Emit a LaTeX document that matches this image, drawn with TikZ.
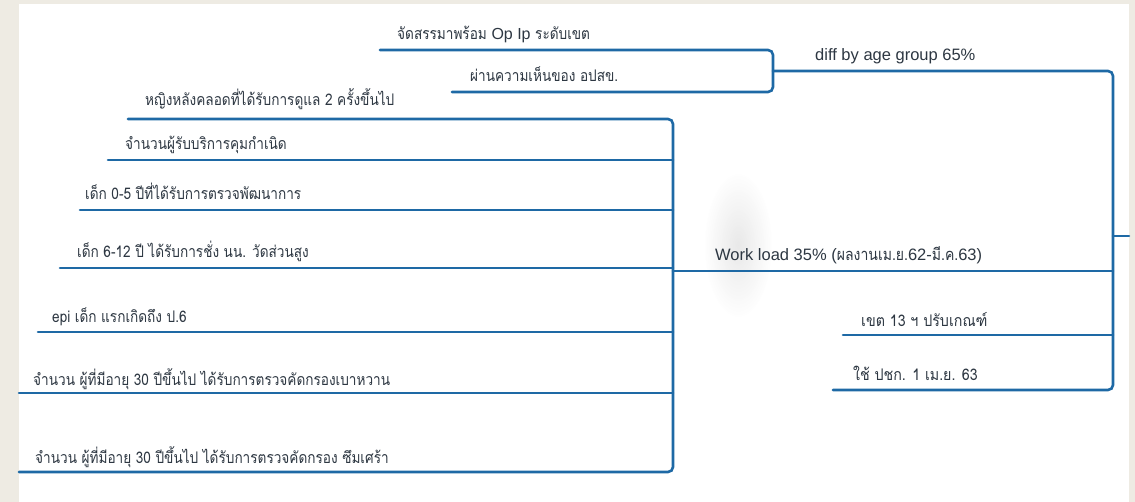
\documentclass[tikz,border=0pt]{standalone}
\usepackage{fontspec}
\usetikzlibrary{fadings}
\setmainfont{Liberation Sans}
\newfontfamily\thai[Script=Thai,FakeStretch=0.85]{Loma}
\newfontfamily\thaiwide[Script=Thai,FakeStretch=0.89]{Loma}
\definecolor{page}{RGB}{238,235,227}
\definecolor{branchblue}{RGB}{30,105,165}
\definecolor{ink}{RGB}{45,55,66}
\tikzfading[name=softspot, inner color=transparent!0, outer color=transparent!100]
\tikzset{
  branch/.style={draw=branchblue, line width=2.6pt, rounded corners=5pt, line cap=round},
  leaf/.style={anchor=base west, inner sep=0pt, text=ink, font=\thai\fontsize{16}{18}\selectfont},
  topic/.style={anchor=base west, inner sep=0pt, text=ink, font=\fontsize{16.5}{19}\selectfont},
  thtopic/.style={anchor=base west, inner sep=0pt, text=ink, font=\thai\fontsize{16}{19}\selectfont},
}
\begin{document}
\begin{tikzpicture}[x=1pt,y=-1pt]
  % canvas and white sheet
  \fill[page] (0,0) rectangle (1135,502);
  \fill[white] (19,4) rectangle (1129,502);
  \useasboundingbox (0,0) rectangle (1135,502);
  % soft grey smear behind the workload label
  \fill[black!55, opacity=0.16, path fading=softspot] (738,245) ellipse (34 and 72);

  % ---- labels ----
  \node[topic] (age)  at (815,61)  {diff by age group 65\%};
  \node[topic] (work) at (715,261) {Work load 35\% ({\thai ผลงานเม.ย.}62-{\thai มี.ค.}63)};
  \node[thtopic, font=\thaiwide\fontsize{16}{19}\selectfont] (zone) at (861,327) {เขต 13 ฯ ปรับเกณฑ์};
  \node[thtopic, font=\thaiwide\fontsize{16}{19}\selectfont] (pop)  at (853,381) {ใช้ ปชก. 1 เม.ย. 63};
  \node[thtopic] (alloc)   at (397,40) {จัดสรรมาพร้อม {\rmfamily Op Ip} ระดับเขต};
  \node[thtopic] (opinion) at (470,82) {ผ่านความเห็นของ อปสข.};

  \node[leaf] (w1) at (145,106) {หญิงหลังคลอดที่ได้รับการดูแล 2 ครั้งขึ้นไป};
  \node[leaf] (w2) at (125,150) {จำนวนผู้รับบริการคุมกำเนิด};
  \node[leaf] (w3) at (85,200)  {เด็ก 0-5 ปีที่ได้รับการตรวจพัฒนาการ};
  \node[leaf] (w4) at (77,258)  {เด็ก 6-12 ปี ได้รับการชั่ง นน. วัดส่วนสูง};
  \node[leaf] (w5) at (52,323)  {epi เด็ก แรกเกิดถึง ป.6};
  \node[leaf] (w6) at (33,385)  {จำนวน ผู้ที่มีอายุ 30 ปีขึ้นไป ได้รับการตรวจคัดกรองเบาหวาน};
  \node[leaf] (w7) at (35,463)  {จำนวน ผู้ที่มีอายุ 30 ปีขึ้นไป ได้รับการตรวจคัดกรอง ซึมเศร้า};

  % ---- line ends and junctions ----
  \coordinate (root)   at (1129,236);
  \coordinate (rootx)  at (1113,236);
  \coordinate (age-a)  at (773,71);
  \coordinate (age-t)  at (1113,71);
  \coordinate (zone-a) at (843,335);
  \coordinate (zone-t) at (1113,335);
  \coordinate (pop-a)  at (833,390);
  \coordinate (pop-t)  at (1113,390);
  \coordinate (work-a) at (673,271);
  \coordinate (work-t) at (1113,271);

  \coordinate (alloc-a)   at (380,50);
  \coordinate (alloc-t)   at (773,50);
  \coordinate (opinion-a) at (452,92);
  \coordinate (opinion-t) at (773,92);

  \coordinate (w1-a) at (128,119); \coordinate (w1-t) at (673,119);
  \coordinate (w2-a) at (108,160); \coordinate (w2-t) at (673,160);
  \coordinate (w3-a) at (80,210);  \coordinate (w3-t) at (673,210);
  \coordinate (w4-a) at (60,268);  \coordinate (w4-t) at (673,268);
  \coordinate (w5-a) at (38,332);  \coordinate (w5-t) at (673,332);
  \coordinate (w6-a) at (19,393);  \coordinate (w6-t) at (673,393);
  \coordinate (w7-a) at (19,472);  \coordinate (w7-t) at (673,472);

  % ---- root bracket ----
  \draw[branch] (age-a) -- (age-t) -- (pop-t) -- (pop-a);
  \draw[branch] (zone-a) -- (zone-t);
  \draw[branch] (work-a) -- (work-t);
  \draw[branch] (rootx) -- (root);

  % ---- age-group bracket ----
  \draw[branch] (alloc-a) -- (alloc-t) -- (opinion-t) -- (opinion-a);

  % ---- workload bracket ----
  \draw[branch] (w1-a) -- (w1-t) -- (w7-t) -- (w7-a);
  \foreach \k in {2,...,6} \draw[branch] (w\k-a) -- (w\k-t);
\end{tikzpicture}
\end{document}
